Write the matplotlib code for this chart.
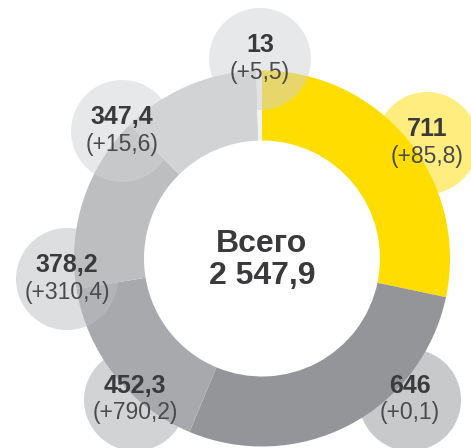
import matplotlib.pyplot as plt
from matplotlib.patches import Circle

plt.rcParams['font.family'] = ['Liberation Sans', 'DejaVu Sans']

values = ["711", "646", "452,3", "378,2", "347,4", "13"]
changes = ["(+85,8)", "(+0,1)", "(+790,2)", "(+310,4)", "(+15,6)", "(+5,5)"]
# доли секторов, как они нарисованы на картинке (%)
shares = [28.3, 28.0, 16.1, 15.2, 11.9, 0.5]
total = "2 547,9"

colors = ["#ffdd00", "#939598", "#a7a9ac", "#bcbec0", "#d1d3d4", "#f3f3f3"]
bubble_colors = ["#ffdd00", "#939598", "#a7a9ac", "#bcbec0", "#d1d3d4", "#d1d3d4"]
bubble_pos = [(427, 143), (410, 400), (135, 400), (67, 279), (122, 131), (260, 59)]

W = 471
H = 448
CX = 262
CY = 258.5

fig = plt.figure(figsize=(W / 100, H / 100), dpi=100)
ax = fig.add_axes([0, 0, 1, 1])

ax.pie(shares, colors=colors, startangle=90, counterclock=False,
       center=(CX, H - CY), radius=188,
       wedgeprops=dict(width=70, linewidth=0))

for i in range(len(values)):
    x, y = bubble_pos[i]
    ax.add_patch(Circle((x, H - y), 51, facecolor=bubble_colors[i],
                        alpha=0.5, linewidth=0, zorder=3))
    ax.text(x, H - y + 14, values[i], ha='center', va='center',
            fontsize=18, fontweight='bold', color='#3a3a3c', zorder=4)
    ax.text(x, H - y - 13, changes[i], ha='center', va='center',
            fontsize=16.5, color='#4a4a4c', zorder=4)

ax.text(CX - 1, H - 244, "Всего", ha='center', va='center',
        fontsize=23, fontweight='bold', color='#3a3a3c')
ax.text(CX, H - 276, total, ha='center', va='center',
        fontsize=23, fontweight='bold', color='#3a3a3c')

ax.set_xlim(0, W)
ax.set_ylim(0, H)
ax.set_aspect('equal')
ax.axis('off')

plt.savefig("out.png", dpi=100)
